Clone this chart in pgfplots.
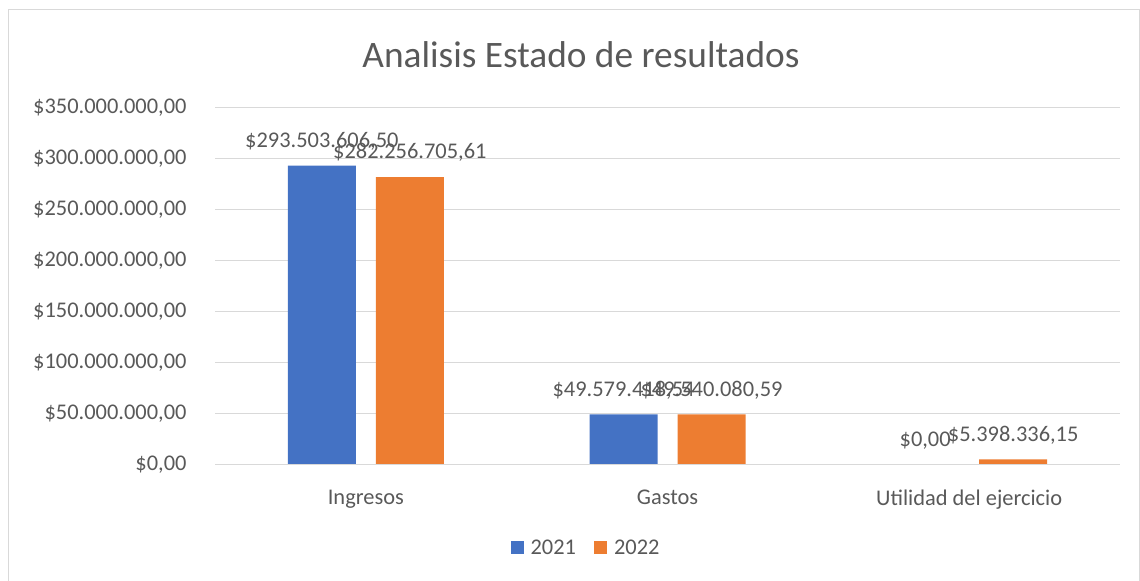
\documentclass[border=0pt]{standalone}
\usepackage{pgfplots}
\pgfplotsset{compat=1.18}
\usepackage{fontspec}
\setmainfont{Carlito}
\definecolor{cblue}{HTML}{4472C4}
\definecolor{corange}{HTML}{ED7D31}
\definecolor{ctext}{HTML}{595959}
\definecolor{cgrid}{HTML}{D9D9D9}
\begin{document}
\begin{tikzpicture}[x=1bp,y=1bp]
\useasboundingbox (0,0) rectangle (1140,581);
\draw[cgrid, line width=1bp] (8.5,0) -- (8.5,571.5) -- (1139.5,571.5) -- (1139.5,0);
\node[text=ctext, font=\fontsize{37.5}{42}\selectfont] at (581,526) {Analisis Estado de resultados};
\begin{axis}[
  at={(215bp,116bp)}, anchor=south west,
  scale only axis, width=905bp, height=357bp,
  xmin=-0.5, xmax=2.5, ymin=0, ymax=350000000,
  ybar=20bp, bar width=68bp,
  axis line style={draw=none},
  axis x line*=bottom,
  tick style={draw=none},
  xtick={0,1,2},
  xticklabels={Ingresos,Gastos,Utilidad del ejercicio},
  ytick={0,50000000,100000000,150000000,200000000,250000000,300000000,350000000},
  yticklabels={{\$0,00},{\$50.000.000,00},{\$100.000.000,00},{\$150.000.000,00},{\$200.000.000,00},{\$250.000.000,00},{\$300.000.000,00},{\$350.000.000,00}},
  scaled y ticks=false,
  ymajorgrids, grid style={cgrid, line width=1bp},
  ticklabel style={text=ctext, font=\fontsize{22.5}{26}\selectfont},
  yticklabel style={xshift=-25bp},
  xticklabel style={yshift=-17bp},
  nodes near coords, point meta=explicit symbolic,
  nodes near coords style={text=ctext, font=\fontsize{22.5}{26}\selectfont, anchor=south, yshift=12bp},
  legend style={at={(0.41,-0.2325)}, anchor=center, draw=none, legend columns=2,
     font=\fontsize{22.5}{26}\selectfont, text=ctext, /tikz/every even column/.append style={column sep=16bp}},
  legend image code/.code={\fill[#1] (0bp,-6.5bp) rectangle (13bp,6.5bp); \path (18bp,0bp);},
  clip=false,
]
\addplot[fill=cblue, draw=none] coordinates {(0,293503606.50) [\$293.503.606,50] (1,49579418.54) [\$49.579.418,54] (2,0) [\$0,00]};
\addplot[fill=corange, draw=none] coordinates {(0,282256705.61) [\$282.256.705,61] (1,49540080.59) [\$49.540.080,59] (2,5398336.15) [\$5.398.336,15]};
\draw[cgrid, line width=1bp] (axis cs:-0.5,0) -- (axis cs:2.5,0);
\legend{2021,2022}
\end{axis}
\end{tikzpicture}
\end{document}
